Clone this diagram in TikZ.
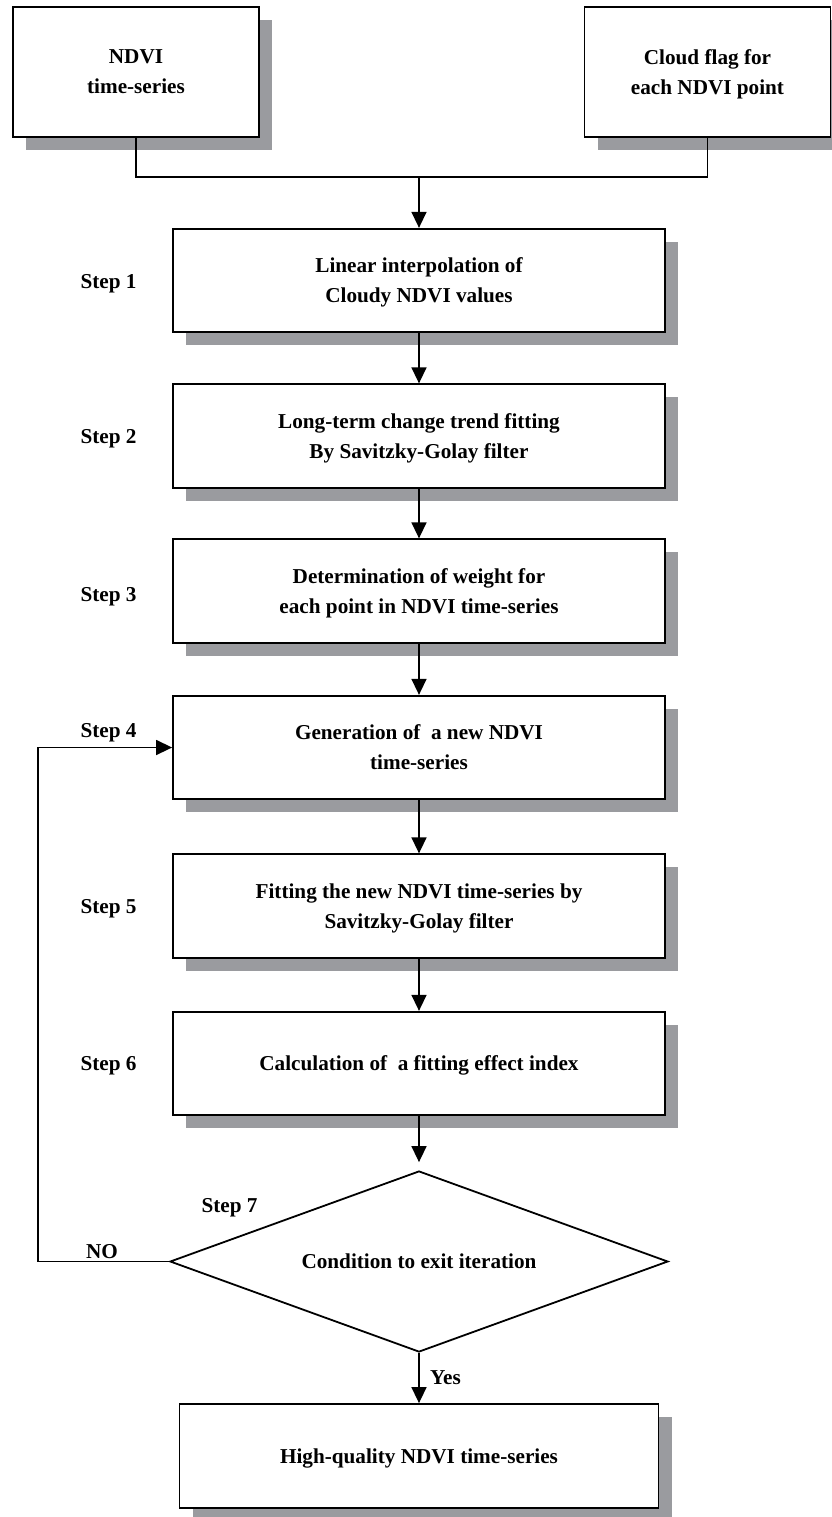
\documentclass[tikz,border=0pt]{standalone}
\usepackage{fontspec}
\setmainfont{Liberation Serif}
\usetikzlibrary{arrows.meta,shapes.geometric,shadows}
\definecolor{shadowgray}{RGB}{154,155,159}

\begin{document}
\begin{tikzpicture}[x=0.5pt,y=-0.5pt,line join=miter,>={Triangle[length=8pt,width=7.5pt]},
  every node/.style={font=\bfseries\fontsize{10.6}{15}\selectfont,align=center,inner sep=1pt},
  boxed/.style={draw,line width=0.9pt,fill=white,inner sep=0pt,text depth=-2.5pt,
    drop shadow={shadow xshift=6.5pt,shadow yshift=-6.5pt,fill=shadowgray,opacity=1}},
  stepbox/.style={boxed,minimum width=246pt,minimum height=51.75pt},
  inbox/.style={boxed,minimum width=123pt,minimum height=65pt},
  decision/.style={diamond,aspect=2.75,draw,line width=0.9pt,inner sep=0pt,minimum width=249pt,minimum height=90.5pt},
  flow/.style={line width=0.75pt}]
  \useasboundingbox (0,0) rectangle (831,1517);
  \def\cx{419}
  \node[inbox] (ndvi) at (136,72) {NDVI\\time-series};
  \node[inbox] (cloud) at (707.5,72) {Cloud flag for\\each NDVI point};
  \node[stepbox] (s1) at (\cx,280.5) {Linear interpolation of\\Cloudy NDVI values};
  \node[stepbox] (s2) at (\cx,436) {Long-term change trend fitting\\By Savitzky-Golay filter};
  \node[stepbox] (s3) at (\cx,591) {Determination of weight for\\each point in NDVI time-series};
  \node[stepbox] (s4) at (\cx,747.5) {Generation of~ a new NDVI\\time-series};
  \node[stepbox] (s5) at (\cx,906) {Fitting the new NDVI time-series by\\Savitzky-Golay filter};
  \node[stepbox] (s6) at (\cx,1063.5) {Calculation of~ a fitting effect index};
  \node[decision] (exit) at (\cx,1261.5) {Condition to exit iteration};
  \node[boxed,minimum width=239.5pt,minimum height=52pt] (result) at (\cx,1456) {High-quality NDVI time-series};
  \foreach \k/\y in {1/284,2/439,3/597,4/733,5/909,6/1066} {
    \node (lab\k) at (108.5,\y) {Step \k};
  }
  \node (lab7) at (229.5,1208) {Step 7};
  \node (no) at (102,1252) {NO};
  \node (yes) at (445.5,1378) {Yes};
  \coordinate (merge) at (\cx,177);
  \coordinate (back) at (38,1261.5);
  \draw[flow] (ndvi.south) |- (merge) -| (cloud.south);
  \draw[flow,->] (merge) -- (s1.north);
  \foreach \a/\b in {s1/s2,s2/s3,s3/s4,s4/s5,s5/s6} {
    \draw[flow,->] (\a.south) -- (\b.north);
  }
  \draw[flow,->,shorten >=4pt] (s6.south) -- (exit.north);
  \draw[flow,->] (exit.south) -- (result.north);
  \draw[flow,->] (exit.west) -- (back) |- (s4.west);
\end{tikzpicture}
\end{document}
